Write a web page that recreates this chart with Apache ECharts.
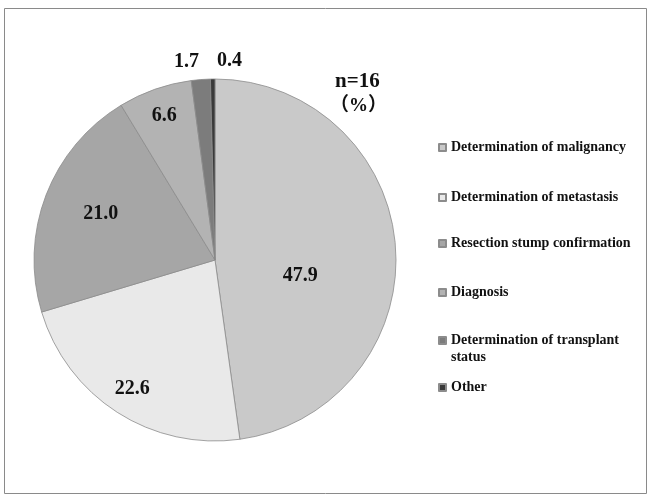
<!DOCTYPE html>
<html>
<head>
<meta charset="utf-8">
<title>Purpose of intraoperative diagnosis</title>
<script src="https://cdn.jsdelivr.net/npm/echarts@6/dist/echarts.min.js"></script>
<style>
  html, body { margin: 0; padding: 0; background: #ffffff; }
  #chart { width: 649px; height: 496px; }
</style>
</head>
<body>
<div id="chart"></div>
<script>
// Purposes (categories) and their shares in percent
const categories = [
  'Determination of malignancy',
  'Determination of metastasis',
  'Resection stump confirmation',
  'Diagnosis',
  'Determination of transplant status',
  'Other'
];
const shares = [47.9, 22.6, 21.0, 6.6, 1.7, 0.4];
const sampleNote = 'n=16';
const unitNote = '（%）';

// Styling
const sliceColors = ['#c9c9c9', '#e9e9e9', '#a6a6a6', '#b3b3b3', '#7c7c7c', '#3a3a3a'];
const serifFont = '"Liberation Serif", "Times New Roman", serif';
const pieCenter = [215, 260];
const pieRadius = 181;

const chart = echarts.init(document.getElementById('chart'));

const baseData = categories.map((name, i) => ({ name, value: shares[i] }));

const valueLabel = {
  position: 'inside',
  formatter: p => p.value.toFixed(1),
  fontFamily: serifFont,
  fontWeight: 'bold',
  fontSize: 20,
  color: '#111111'
};

// Main pie: visible slices, with the label for the largest share
// (two blank lines above it drop the value a little below the slice's middle)
const mainSeries = {
  type: 'pie',
  name: 'main',
  center: pieCenter,
  radius: [0, pieRadius],
  startAngle: 90,
  clockwise: true,
  avoidLabelOverlap: false,
  labelLine: { show: false },
  itemStyle: { borderColor: '#8c8c8c', borderWidth: 0.8 },
  emphasis: { disabled: true },
  data: baseData.map((d, i) => ({
    name: d.name,
    value: d.value,
    itemStyle: { color: sliceColors[i] },
    label: i === 0
      ? {
          show: true,
          lineHeight: 22,
          padding: [0, 16, 0, 0],
          formatter: p => '\n\n' + p.value.toFixed(1)
        }
      : { show: false }
  })),
  label: valueLabel
};

// Invisible pies of larger radius, used only to set how far out the
// remaining value labels sit along each slice's middle angle
function labelRing(id, reach, shown, pads) {
  return {
    type: 'pie',
    name: id,
    center: pieCenter,
    radius: [0, reach * 2],
    startAngle: 90,
    clockwise: true,
    silent: true,
    avoidLabelOverlap: false,
    labelLine: { show: false },
    emphasis: { disabled: true },
    itemStyle: { color: 'rgba(0,0,0,0)', borderWidth: 0 },
    data: baseData.map((d, i) => ({
      name: d.name,
      value: d.value,
      label: { show: shown.includes(i), padding: (pads && pads[i]) || 0 }
    })),
    label: valueLabel,
    z: 3
  };
}

const legendRows = [147, 197, 243, 292, 340, 387];
const twoLineName = 'Determination of transplant status';
const legends = categories.map((name, i) => ({
  data: [name],
  orient: 'vertical',
  left: 433,
  // the wrapped entry carries a leading blank line, so its first text line
  // stays level with the marker
  top: legendRows[i] - (name === twoLineName ? 30 : 13),
  icon: 'rect',
  itemWidth: 7,
  itemHeight: 7,
  itemGap: 0,
  selectedMode: false,
  formatter: n => n === twoLineName ? '\nDetermination of transplant\nstatus' : n,
  textStyle: {
    fontFamily: serifFont,
    fontWeight: 'bold',
    fontSize: 14,
    color: '#111111',
    lineHeight: 17
  }
}));

chart.setOption({
  animation: false,
  backgroundColor: '#ffffff',
  legend: legends,
  graphic: [
    {
      type: 'rect',
      shape: { x: 4.5, y: 8.5, width: 642, height: 485 },
      style: { fill: 'none', stroke: '#8a8a8a', lineWidth: 1 },
      silent: true,
      z: -1
    },
    {
      type: 'text',
      left: 335,
      top: 71,
      style: {
        text: sampleNote,
        fontFamily: serifFont,
        fontWeight: 'bold',
        fontSize: 21,
        fill: '#111111'
      }
    },
    {
      type: 'text',
      left: 330,
      top: 97,
      style: {
        text: unitNote,
        fontFamily: serifFont + ', "Noto Sans CJK JP"',
        fontWeight: 'bold',
        fontSize: 19,
        fill: '#111111'
      }
    }
  ],
  series: [
    mainSeries,
    labelRing('ringMid', 150, [1, 3]),
    labelRing('ringInner', 127, [2], { 2: [0, 0, 0, 14] }),
    labelRing('ringOuter', 196, [4, 5], { 4: [0, 26, 0, 0], 5: [0, 0, 0, 34] })
  ]
});
</script>
</body>
</html>
